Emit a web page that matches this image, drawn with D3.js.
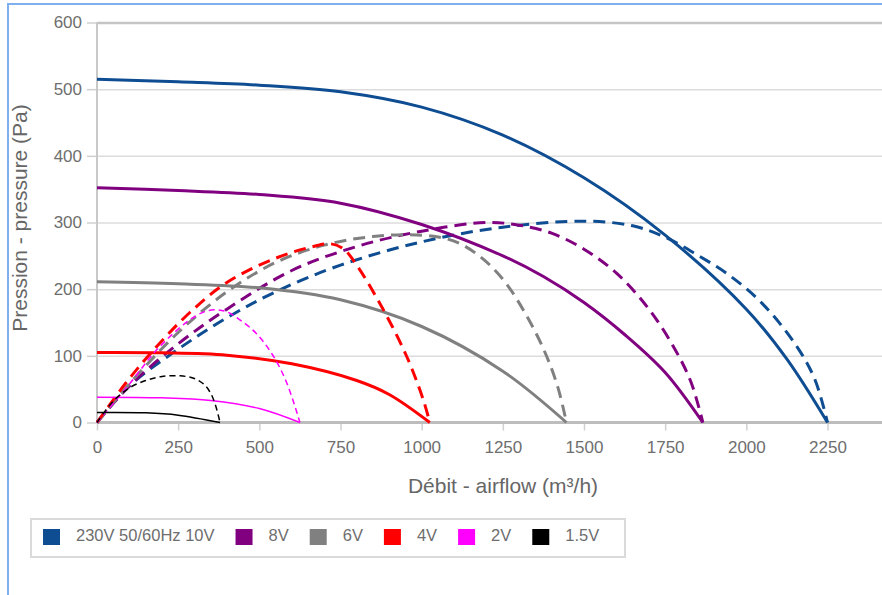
<!DOCTYPE html>
<html><head><meta charset="utf-8">
<script src="https://cdn.jsdelivr.net/npm/d3@7"></script>
<style>html,body{margin:0;padding:0;background:#fff;overflow:hidden;} svg{display:block;}</style>
</head><body>
<svg id="chart" width="882" height="595"></svg>
<script>
// ---- tick labels ----
const flowTicks = [0, 250, 500, 750, 1000, 1250, 1500, 1750, 2000, 2250];
const pressureTicks = [0, 100, 200, 300, 400, 500, 600];

// ---- series names & colours ----
const seriesNames = ["230V 50/60Hz 10V", "8V", "6V", "4V", "2V", "1.5V"];
const seriesColors = ["#0e4d92", "#800080", "#808080", "#ff0000", "#ff00ff", "#000000"];

// ---- fan curves (solid): flow (m³/h) and pressure (Pa) ----
const q10 = [0, 250, 500, 750, 1000, 1250, 1500, 1750, 2000, 2125, 2250];
const p10 = [515, 511, 506, 496, 473, 431, 367, 281, 170, 95, 0];
const q8 = [0, 250, 500, 750, 1000, 1250, 1375, 1500, 1625, 1750, 1866];
const p8 = [352, 348, 342, 329, 297, 250, 219, 180, 132, 75, 0];
const q6 = [0, 250, 500, 750, 1000, 1250, 1446];
const p6 = [211, 208, 202, 184, 144, 77, 0];
const q4 = [0, 200, 400, 600, 800, 900, 1025];
const p4 = [105, 104.5, 101, 88, 63, 42, 0];
const q2 = [0, 200, 350, 500, 625];
const p2 = [38, 37, 33, 21, 0];
const q15 = [0, 150, 250, 379];
const p15 = [15, 14.5, 11, 0];

// ---- dashed curves: flow and pressure ----
const qd10 = [0, 100, 250, 400, 550, 750, 1000, 1250, 1500, 1650, 1750, 1850, 1950, 2050, 2150, 2210, 2250];
const pd10 = [0, 55, 110, 157, 196, 236, 271, 293, 302, 295, 278, 251, 220, 178, 118, 66, 0];
const qd8 = [0, 100, 250, 400, 600, 800, 1000, 1200, 1300, 1400, 1500, 1600, 1700, 1780, 1830, 1866];
const pd8 = [0, 55, 118, 170, 228, 264, 287, 300, 296, 284, 260, 224, 170, 110, 60, 0];
const qd6 = [0, 100, 250, 400, 550, 700, 850, 1000, 1100, 1177, 1250, 1320, 1380, 1420, 1446];
const pd6 = [0, 58, 135, 196, 240, 266, 279, 281, 272, 250, 215, 163, 105, 52, 0];
const qd4 = [0, 90, 184, 286, 400, 543, 650, 720, 760, 800, 882, 954, 1005, 1025];
const pd4 = [0, 60, 114, 165, 210, 245, 262, 268, 260, 236, 169, 99, 34, 0];
const qd2 = [0, 102, 184, 280, 330, 368, 400, 440, 490, 540, 584, 625];
const pd2 = [0, 59, 109, 152, 166, 169, 166, 154, 134, 102, 60, 0];
const qd15 = [0, 50, 100, 150, 200, 256, 300, 330, 350, 365, 379];
const pd15 = [0, 32, 52, 63, 69, 70, 66, 57, 44, 26, 0];

const solidQ = [q10, q8, q6, q4, q2, q15];
const solidP = [p10, p8, p6, p4, p2, p15];
const dashQ = [qd10, qd8, qd6, qd4, qd2, qd15];
const dashP = [pd10, pd8, pd6, pd4, pd2, pd15];
const thin = [false, false, false, false, true, true];

// ---- drawing ----
const W = 882, H = 595;
const X0 = 97, XEND = 827.5, Y0 = 422.5, YTOP = 22.5;
const svg = d3.select("#chart");
const font = "'Liberation Sans', Arial, sans-serif";

const x = d3.scaleLinear().domain([0, 2250]).range([X0, XEND]);
const y = d3.scaleLinear().domain([0, 600]).range([Y0, YTOP]);

// frame
svg.append("line").attr("x1", 8).attr("x2", 8).attr("y1", 3).attr("y2", H)
  .attr("stroke", "#7fb0ee").attr("stroke-width", 2);
svg.append("line").attr("x1", 8).attr("x2", W).attr("y1", 4).attr("y2", 4)
  .attr("stroke", "#7fb0ee").attr("stroke-width", 2);

// grid
const grid = svg.append("g").attr("transform", `translate(${X0},0)`)
  .call(d3.axisLeft(y).tickValues(pressureTicks).tickSize(-(W - X0)).tickFormat(""));
grid.select(".domain").remove();
grid.selectAll(".tick line").attr("stroke", d => d === 600 ? "#c4c4c4" : "#dcdcdc")
  .attr("stroke-width", d => d === 600 ? 2.5 : 1.5);

// y axis
const yAx = svg.append("g").attr("transform", `translate(${X0},0)`)
  .call(d3.axisLeft(y).tickValues(pressureTicks).tickSize(10).tickPadding(5).tickFormat(d3.format("d")));
yAx.select(".domain").remove();
yAx.selectAll(".tick line").attr("stroke", "#d0d0d0").attr("stroke-width", 1.5);
yAx.selectAll(".tick text").attr("fill", "#6e6e6e").style("font", `17px ${font}`);
svg.append("line").attr("x1", X0).attr("x2", X0).attr("y1", YTOP).attr("y2", Y0)
  .attr("stroke", "#c8c8c8").attr("stroke-width", 2);

// x axis
const xAx = svg.append("g").attr("transform", `translate(0,${Y0})`)
  .call(d3.axisBottom(x).tickValues(flowTicks).tickSize(8).tickPadding(10).tickFormat(d3.format("d")));
xAx.select(".domain").remove();
xAx.selectAll(".tick line").attr("stroke", "#d0d0d0").attr("stroke-width", 1.5);
xAx.selectAll(".tick text").attr("fill", "#6e6e6e").style("font", `17px ${font}`);
svg.append("line").attr("x1", X0).attr("x2", W).attr("y1", Y0).attr("y2", Y0)
  .attr("stroke", "#bdbdbd").attr("stroke-width", 3);

// axis titles
svg.append("text").attr("x", 503).attr("y", 493).attr("text-anchor", "middle")
  .attr("fill", "#666").style("font", `21px ${font}`).text("Débit - airflow (m³/h)");
svg.append("text").attr("transform", "translate(27,218) rotate(-90)").attr("text-anchor", "middle")
  .attr("fill", "#666").style("font", `21px ${font}`).text("Pression - pressure (Pa)");

// curves
const line = d3.line().x(d => x(d[0])).y(d => y(d[1])).curve(d3.curveCatmullRom.alpha(0.5));
const curves = svg.append("g").attr("fill", "none").attr("stroke-linecap", "butt");
seriesNames.forEach((name, i) => {
  const sol = solidQ[i].map((q, j) => [q, solidP[i][j]]);
  const das = dashQ[i].map((q, j) => [q, dashP[i][j]]);
  curves.append("path").attr("d", line(das)).attr("stroke", seriesColors[i])
    .attr("stroke-width", thin[i] ? 1.5 : 3)
    .attr("stroke-dasharray", thin[i] ? "6,4" : "12,7");
  curves.append("path").attr("d", line(sol)).attr("stroke", seriesColors[i])
    .attr("stroke-width", thin[i] ? 1.5 : 3);
});

// legend
const leg = svg.append("g");
leg.append("rect").attr("x", 31).attr("y", 519).attr("width", 594).attr("height", 38)
  .attr("fill", "#fff").attr("stroke", "#dadada").attr("stroke-width", 2);
let lx = 43;
seriesNames.forEach((name, i) => {
  leg.append("rect").attr("x", lx).attr("y", 529).attr("width", 17).attr("height", 16)
    .attr("fill", seriesColors[i]);
  const t = leg.append("text").attr("x", lx + 33).attr("y", 541)
    .attr("fill", "#6e6e6e").style("font", `16.5px ${font}`).text(name);
  lx = lx + 33 + t.node().getComputedTextLength() + 21;
});
</script>
</body></html>
